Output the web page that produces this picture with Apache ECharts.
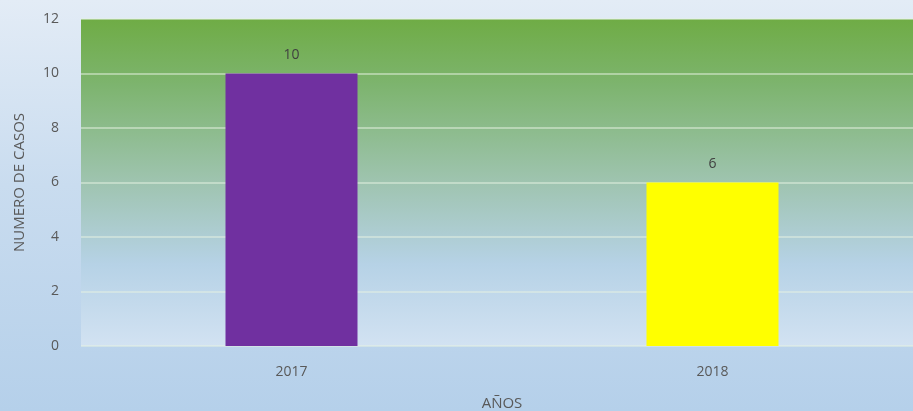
<!DOCTYPE html>
<html><head><meta charset="utf-8">
<script src="https://cdn.jsdelivr.net/npm/echarts@6/dist/echarts.min.js"></script>
<style>html,body{margin:0;padding:0;}#c{width:913px;height:411px;}</style>
</head><body><div id="c"></div>
<script>
const categories = ['2017', '2018'];
const casos = [10, 6];
const barColors = ['#7030A0', '#FFFF00'];
const yTicks = {min: 0, max: 12, interval: 2};

const chart = echarts.init(document.getElementById('c'));
const font = '"Open Sans", "Liberation Sans", sans-serif';
chart.setOption({
  backgroundColor: new echarts.graphic.LinearGradient(0, 0, 0, 1, [
    {offset: 0, color: '#e3ecf6'},
    {offset: 0.45, color: '#c9dcef'},
    {offset: 1, color: '#b5d0ea'}
  ]),
  grid: {
    left: 81, width: 842, top: 19, height: 327,
    outerBoundsMode: 'none', containLabel: false,
    show: true, borderWidth: 0,
    backgroundColor: new echarts.graphic.LinearGradient(0, 0, 0, 1, [
      {offset: 0, color: '#6fac45'},
      {offset: 0.2, color: '#7db46e'},
      {offset: 0.5, color: '#9fc4b0'},
      {offset: 0.75, color: '#b6d2e6'},
      {offset: 1, color: '#d2e2f2'}
    ])
  },
  xAxis: {
    type: 'category', data: categories,
    name: 'AÑOS', nameLocation: 'middle', nameGap: 50,
    nameTextStyle: {color: '#595959', fontSize: 15, fontFamily: font},
    axisLine: {show: false}, axisTick: {show: false},
    axisLabel: {color: '#595959', fontSize: 14, fontFamily: font, margin: 19}
  },
  yAxis: {
    type: 'value', min: yTicks.min, max: yTicks.max, interval: yTicks.interval,
    name: 'NUMERO DE CASOS', nameLocation: 'middle', nameGap: 54, nameRotate: 90,
    nameTextStyle: {color: '#595959', fontSize: 15, fontFamily: font},
    axisLine: {show: false}, axisTick: {show: false},
    axisLabel: {color: '#595959', fontSize: 14, fontFamily: font, margin: 22},
    splitLine: {lineStyle: {color: 'rgba(230,242,225,0.5)', width: 2}}
  },
  series: [{
    type: 'bar', barWidth: 132,
    data: casos.map((v, i) => ({value: v, itemStyle: {color: barColors[i]}})),
    label: {show: true, position: 'top', distance: 11, color: '#404040', fontSize: 14, fontFamily: font}
  }]
});
</script></body></html>
